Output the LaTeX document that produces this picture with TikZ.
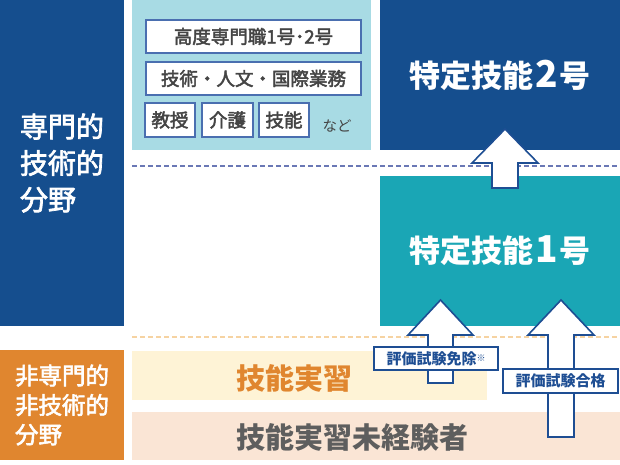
\documentclass[tikz,border=0pt]{standalone}
\usepackage{fontspec}
\setmainfont{Noto Sans CJK JP}
\newfontfamily\jpmedium[FakeBold=2.5]{Noto Sans CJK JP}
\usetikzlibrary{positioning}

\definecolor{expertblue}{HTML}{154E8E}
\definecolor{nonexpert}{HTML}{E0862F}
\definecolor{panelcyan}{HTML}{A8DBE4}
\definecolor{tealbox}{HTML}{1AA6B5}
\definecolor{trainyellow}{HTML}{FEF3D6}
\definecolor{nobeige}{HTML}{FAE5D5}
\definecolor{arrowblue}{HTML}{1E4E93}
\definecolor{tagblue}{HTML}{4A6FB0}
\definecolor{textgray}{HTML}{444444}
\definecolor{darkgray}{HTML}{5E5E5E}
\definecolor{dashblue}{HTML}{6A78B5}
\definecolor{dashorange}{HTML}{F6D3A2}

\begin{document}
\begin{tikzpicture}[
    x=1pt, y=-1pt,
    panel/.style={rectangle, anchor=north west, inner sep=0pt, outer sep=0pt},
    tag/.style={rectangle, draw=tagblue, line width=1.2pt, fill=white, inner sep=0pt, text=textgray, font=\jpmedium\fontsize{18.5}{19}\selectfont},
    examtag/.style={rectangle, draw=arrowblue, line width=2pt, fill=white, inner sep=0pt, text=arrowblue, font=\bfseries\fontsize{15}{16}\selectfont},
    blockarrow/.style={draw=arrowblue, line width=1.6pt, fill=white, line join=miter},
    sep/.style={line width=1.2pt, dash pattern=on 5pt off 3pt}
]
    \useasboundingbox (0,0) rectangle (620,464);

    % fields on the left
    \node[panel, fill=expertblue, minimum width=124pt, minimum height=326pt, align=left, text=white, font=\jpmedium\fontsize{28}{36.5}\selectfont] (expert) at (0,0) {専門的\\技術的\\分野};
    \node[panel, fill=nonexpert, minimum width=124pt, minimum height=110pt, align=left, text=white, font=\jpmedium\fontsize{23.5}{29.5}\selectfont] (nonexpert) at (0,350) {非専門的\\非技術的\\分野};

    % existing statuses
    \node[panel, fill=panelcyan, minimum width=239pt, minimum height=150pt] (others) at (132,0) {};
    \node[tag, minimum width=215pt, minimum height=33pt] (hsp) at (253.5,36.5) {高度専門職1号･2号};
    \node[tag, minimum width=215pt, minimum height=33pt] (eng) at (253.5,78.5) {技術・人文・国際業務};
    \node[tag, minimum width=50pt, minimum height=34pt] (prof) at (170,120) {教授};
    \node[tag, minimum width=51pt, minimum height=34pt] (care) at (227.5,120) {介護};
    \node[tag, minimum width=50pt, minimum height=34pt] (skill) at (284,120) {技能};
    \node[text=textgray, font=\fontsize{14.5}{15}\selectfont] (etc) at (337,126) {など};

    % specified skilled worker
    \node[panel, fill=expertblue, minimum width=240pt, minimum height=150pt, text=white, font=\bfseries\fontsize{31}{32}\selectfont] (ssw2) at (380,0) {特定技能\kern2pt{\fontsize{37}{37}\selectfont 2}\kern2pt号};
    \node[panel, fill=tealbox, minimum width=240pt, minimum height=150pt, text=white, font=\bfseries\fontsize{31}{32}\selectfont] (ssw1) at (380,176) {特定技能\kern2pt{\fontsize{37}{37}\selectfont 1}\kern2pt号};

    % technical intern training
    \node[panel, fill=trainyellow, minimum width=355pt, minimum height=49pt] (train) at (132,351) {};
    \node[anchor=west, inner sep=0pt, text=nonexpert, font=\bfseries\fontsize{29}{30}\selectfont] (traintxt) at (236,378) {技能実習};
    \node[panel, fill=nobeige, minimum width=488pt, minimum height=48pt] (untrained) at (132,412) {};
    \node[anchor=west, inner sep=0pt, text=darkgray, font=\bfseries\fontsize{29}{30}\selectfont] (untrainedtxt) at (236,437) {技能実習未経験者};

    % dashed borders
    \coordinate (bl) at (132,166);
    \coordinate (br) at (620,166);
    \coordinate (ol) at (132,337);
    \coordinate (or) at (620,337);
    \draw[sep, dashblue] (bl) -- (br);
    \draw[sep, dashorange] (ol) -- (or);

    % block arrows
    \draw[blockarrow] (505,129) -- (538,163) -- (518,163) -- (518,188) -- (492,188) -- (492,163) -- (472,163) -- cycle;
    \draw[blockarrow] (440.5,300) -- (473,335) -- (453,335) -- (453,383) -- (428,383) -- (428,335) -- (408,335) -- cycle;
    \draw[blockarrow] (561,300) -- (594,335) -- (574,335) -- (574,437) -- (548,437) -- (548,335) -- (528,335) -- cycle;

    \node[examtag, minimum width=124pt, minimum height=23pt] (exempt) at (436,358.5) {評価試験免除{\fontsize{9}{9}\selectfont\raisebox{3pt}{※}}};
    \node[examtag, minimum width=115pt, minimum height=24pt] (pass) at (560.5,381) {評価試験合格};
\end{tikzpicture}
\end{document}
